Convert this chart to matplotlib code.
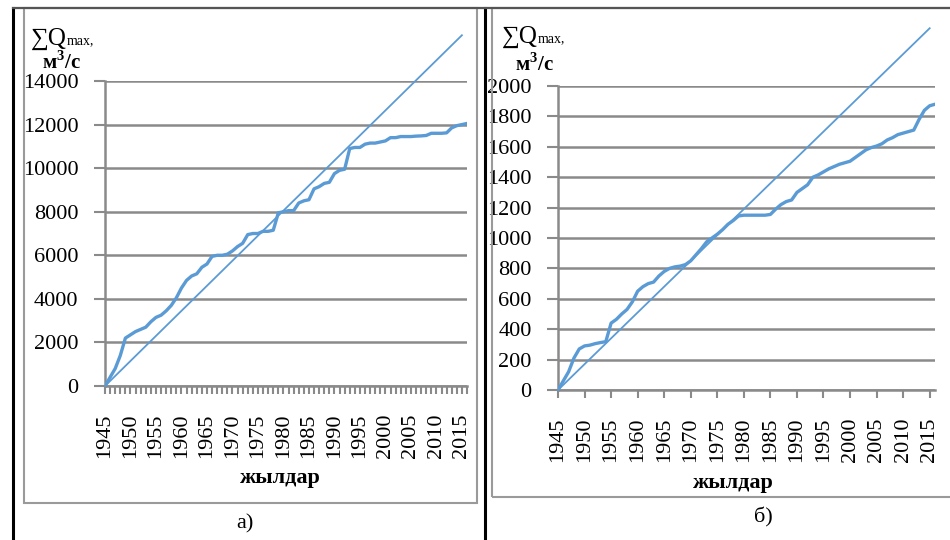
import numpy as np
import matplotlib
matplotlib.use("Agg")
import matplotlib.pyplot as plt
from matplotlib.lines import Line2D
from matplotlib.patches import Rectangle

plt.rcParams['font.family'] = ['Liberation Serif', 'DejaVu Serif']
plt.rcParams['mathtext.fontset'] = 'custom'
plt.rcParams['mathtext.rm'] = 'Liberation Serif'
plt.rcParams['mathtext.bf'] = 'Liberation Serif:bold'

W, H = 950, 540

# cumulative maximum discharge, m3/s, by year
years = np.arange(1945, 2017)
sum_q_a = [0, 400, 800, 1400, 2200, 2350, 2500, 2600, 2700, 2950,
           3150, 3250, 3450, 3700, 4050, 4500, 4850, 5050, 5150, 5450,
           5600, 5950, 6000, 6000, 6050, 6200, 6400, 6550, 6950, 7000,
           7000, 7100, 7100, 7150, 7950, 8000, 8050, 8050, 8400, 8500,
           8550, 9050, 9150, 9300, 9350, 9750, 9900, 9950, 10900, 10950,
           10950, 11100, 11150, 11150, 11200, 11250, 11400, 11400, 11450, 11450,
           11450, 11470, 11480, 11500, 11600, 11600, 11600, 11620, 11850, 11950,
           12000, 12050]
sum_q_b = [0, 60, 120, 210, 270, 290, 295, 305, 312, 318,
           440, 465, 500, 530, 580, 650, 680, 700, 710, 750,
           780, 800, 810, 815, 825, 850, 890, 930, 975, 1000,
           1025, 1055, 1090, 1115, 1145, 1150, 1150, 1150, 1150, 1150,
           1155, 1190, 1220, 1240, 1250, 1300, 1325, 1350, 1400, 1415,
           1435, 1455, 1470, 1485, 1495, 1505, 1530, 1555, 1580, 1595,
           1605, 1620, 1645, 1660, 1680, 1690, 1700, 1710, 1780, 1840,
           1870, 1880]

# linear trend (slope per year), drawn 1945..2015
trend_years = np.array([1945, 2015])
trend_slope_a = 230
trend_slope_b = 34

y_ticks_a = np.arange(0, 14001, 2000)
y_ticks_b = np.arange(0, 2001, 200)
x_labels = np.arange(1945, 2016, 5)

line_col = '#5b9bd5'
grid_col = '#8a8a8a'
fs = 16


def px(x, y):
    return x / W, 1 - y / H


def rect(x0, y0, x1, y1):
    a = px(x0, y1)
    b = px(x1, y0)
    return [a[0], a[1], b[0] - a[0], b[1] - a[1]]


def draw_panel(ax, values, slope, yticks, minor_years):
    ax.plot(years, values, color=line_col, lw=2.4, solid_joinstyle='round', zorder=3)
    ax.plot(trend_years, slope * (trend_years - 1945), color=line_col, lw=1.3,
            clip_on=False, zorder=3)
    ax.set_xlim(1945, 2016)
    ax.set_ylim(yticks[0], yticks[-1])
    ax.set_yticks(yticks)
    ax.set_xticks(x_labels)
    ax.set_xticklabels([str(y) for y in x_labels], rotation=90, fontsize=fs)
    if minor_years:
        ax.set_xticks(years, minor=True)
    ax.tick_params(axis='y', labelsize=fs, length=8, width=1.5, color=grid_col, pad=11)
    ax.tick_params(axis='x', which='both', length=6, width=1.5, color=grid_col, pad=14)
    ax.grid(axis='y', color=grid_col, lw=1.8)
    ax.set_axisbelow(True)
    for s in ['top', 'right']:
        ax.spines[s].set_visible(False)
    for s in ['left', 'bottom']:
        ax.spines[s].set_color(grid_col)
        ax.spines[s].set_linewidth(1.8)


# "∑Q" with a small "max," subscript after it
def q_title(ax, x, y):
    t = fig.text(*px(x, y), '∑Q', fontsize=fs + 2, ha='left', va='center')
    ax.annotate('max,', xy=(1.0, 0.12), xycoords=t, fontsize=fs - 6,
                ha='left', va='bottom', annotation_clip=False)


fig = plt.figure(figsize=(W / 100, H / 100), dpi=100)

# frames around both panels
fig.add_artist(Rectangle(px(24, 503), 453 / W, 495 / H, transform=fig.transFigure,
                         fill=False, ec='#9a9a9a', lw=1.5))
fig.add_artist(Rectangle(px(492, 497), 470 / W, 489 / H, transform=fig.transFigure,
                         fill=False, ec='#9a9a9a', lw=1.5))
for xv in (13, 485):
    fig.add_artist(Line2D([xv / W] * 2, [1 - 8 / H, 0], transform=fig.transFigure,
                          color='black', lw=2.2))
fig.add_artist(Line2D([13 / W, 1], [1 - 8 / H] * 2, transform=fig.transFigure,
                      color='#555555', lw=1.6))

ax_a = fig.add_axes(rect(105, 81, 467, 386))
draw_panel(ax_a, sum_q_a, trend_slope_a, y_ticks_a, True)

ax_b = fig.add_axes(rect(558, 86, 935, 390))
draw_panel(ax_b, sum_q_b, trend_slope_b, y_ticks_b, False)

# axis titles
q_title(ax_a, 31, 39)
fig.text(*px(42, 62), r'м$^\mathbf{3}$/с', fontsize=fs - 1, fontweight='bold',
         ha='left', va='center')
q_title(ax_b, 502, 37)
fig.text(*px(515, 64), r'м$^\mathbf{3}$/с', fontsize=fs - 1, fontweight='bold',
         ha='left', va='center')

fig.text(*px(280, 478), 'жылдар', fontsize=fs, fontweight='bold', ha='center', va='center')
fig.text(*px(733, 483), 'жылдар', fontsize=fs, fontweight='bold', ha='center', va='center')
fig.text(*px(245, 524), 'а)', fontsize=fs, ha='center', va='center')
fig.text(*px(763, 517), 'б)', fontsize=fs, ha='center', va='center')

fig.savefig('out.png', dpi=100)
